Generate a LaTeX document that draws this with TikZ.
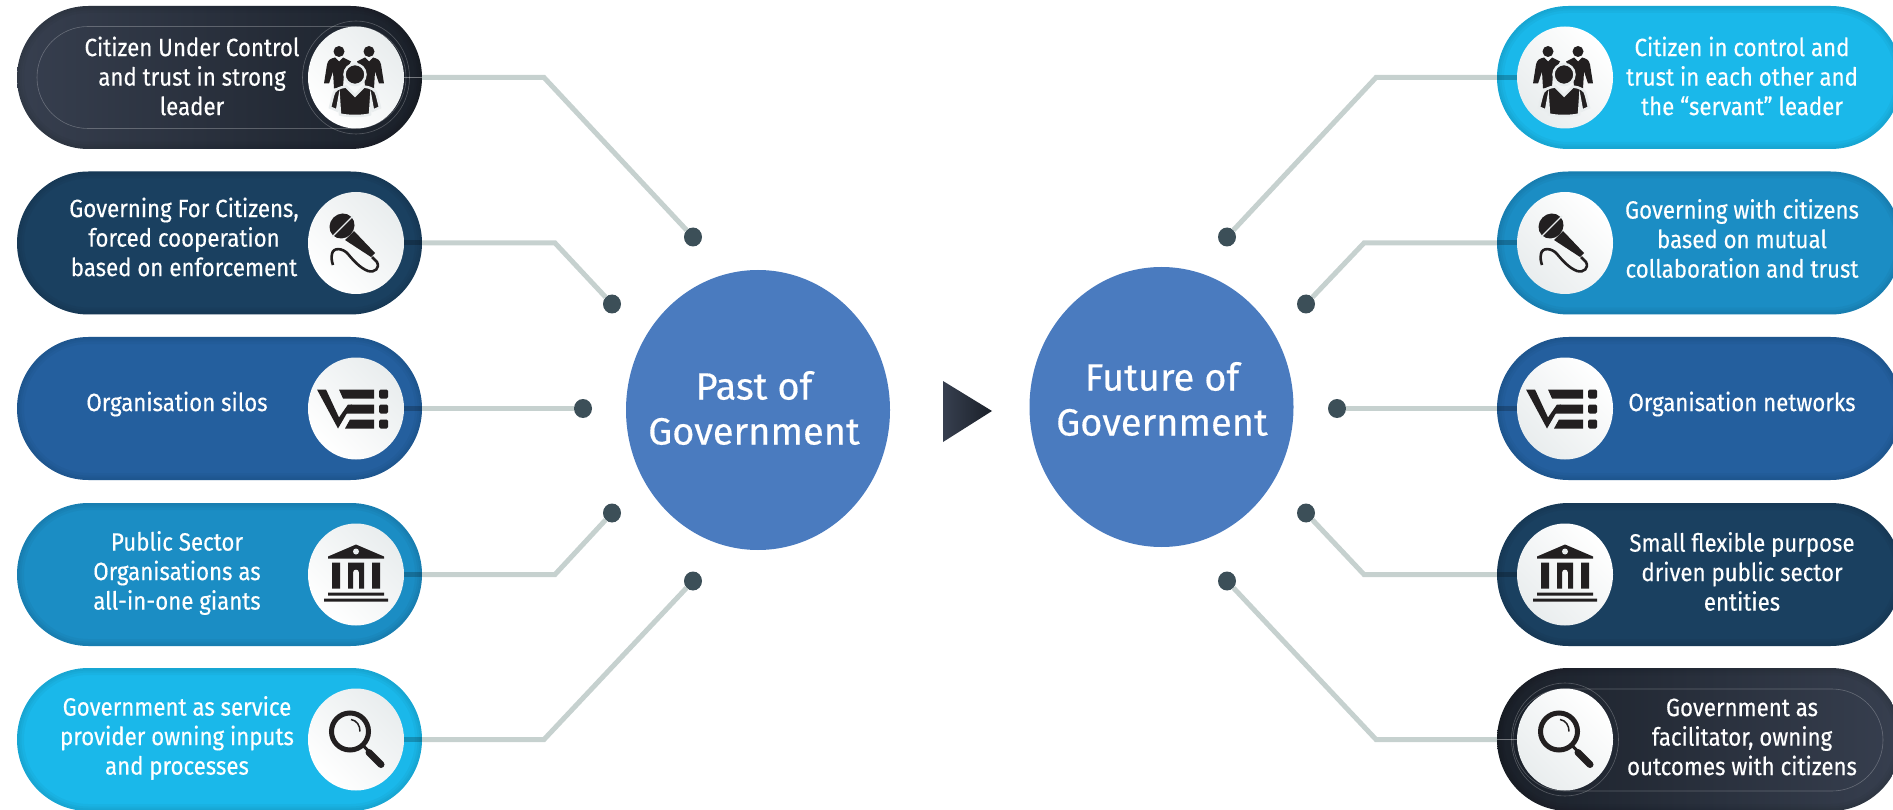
\documentclass[tikz,border=0pt]{standalone}
\usepackage{fontspec}
\setmainfont[FakeStretch=0.89,FakeBold=0.35]{Fira Sans}
\newfontfamily\headfont[FakeBold=0.4]{Fira Sans}
\usetikzlibrary{shapes.geometric,shapes.misc}
\definecolor{inkDark}{HTML}{221F20}
\definecolor{linkGray}{HTML}{C6D1CF}
\definecolor{dotGray}{HTML}{3C4F58}
\definecolor{bigBlue}{HTML}{4A7BBF}
\definecolor{slateA}{HTML}{373F4F}
\definecolor{slateB}{HTML}{1A2029}
\definecolor{navy}{HTML}{1A4060}
\definecolor{royal}{HTML}{245F9E}
\definecolor{ocean}{HTML}{1B8DC4}
\definecolor{sky}{HTML}{1AB8EA}
\definecolor{iconPale}{HTML}{E9EDEE}
\tikzset{
  pillbox/.style={rounded rectangle,inner sep=0pt,minimum width=405pt,minimum height=143pt,
    path picture={\foreach \w in {14,9,5}{\draw[black,opacity=.03,line width=\w pt,rounded corners=71.5pt]
      (path picture bounding box.south west) rectangle (path picture bounding box.north east);}}},
  ringbox/.style={rounded rectangle,inner sep=0pt,minimum height=102pt,draw=white,draw opacity=.25,line width=.6pt},
  ringicon/.style={ellipse,inner sep=0pt,minimum width=107pt,minimum height=113pt,draw=white,draw opacity=.25,line width=.6pt},
  iconbox/.style={ellipse,inner sep=0pt,minimum width=96pt,minimum height=102pt,top color=iconPale,bottom color=white,shading angle=-45},
  iconboxr/.style={iconbox,shading angle=135},
  pilltext/.style={text=white,align=center,font=\fontsize{25}{29.5}\selectfont},
  headtext/.style={text=white,align=center,font=\headfont\fontsize{38}{45}\selectfont},
  bigdisc/.style={ellipse,inner sep=0pt,minimum width=264pt,minimum height=280pt,fill=bigBlue},
  endball/.style={ellipse,inner sep=0pt,minimum width=18pt,minimum height=19pt,fill=dotGray},
  link/.style={draw=linkGray,line width=5pt},
  linkin/.style={draw=black,opacity=.22,line width=5pt},
  linkpale/.style={draw=white,opacity=.4,line width=.7pt},
  iconpeople/.pic={
    \fill[inkDark] (-17,-26) circle (5.5) (13,-26) circle (5.5);
    \fill[inkDark] (-32,6) -- (-29,-13) .. controls (-28,-18) and (-25,-19) .. (-21,-20) -- (-17,-16) -- (-13,-20) -- (-5,-16) -- (-12,-3) -- (-13,9) -- (-22,11) -- (-23,-6) -- (-27,6) -- cycle;
    \fill[inkDark] (28,6) -- (25,-13) .. controls (24,-18) and (21,-19) .. (17,-20) -- (13,-16) -- (9,-20) -- (1,-16) -- (8,-3) -- (9,9) -- (18,11) -- (19,-6) -- (23,6) -- cycle;
    \fill[inkDark,draw=iconPale,line width=2.5pt] (-1,-3) circle (10.5);
    \fill[inkDark,draw=iconPale,line width=2.5pt] (-10,9) -- (-1,18) -- (8,9) .. controls (15,10) and (20,12) .. (21,18) -- (24,30) -- (17,33) -- (15,22) -- (14,37) .. controls (6,39) and (-8,39) .. (-16,37) -- (-17,22) -- (-19,33) -- (-26,30) -- (-23,18) .. controls (-22,12) and (-17,10) .. (-10,9) -- cycle;
  },
  iconmic/.pic={
    \fill[inkDark,rotate around={45:(-14,-17)}] (-14,-17) ellipse (13 and 12);
    \draw[iconPale,line width=1.3pt] (-24,-6) -- (-3,-27);
    \fill[inkDark] (-11,-3) -- (-2,-12) -- (19,10) -- (15,14) -- cycle;
    \draw[inkDark,line width=2.6pt] (16,14) -- (21,19) .. controls (24,25) and (19,30) .. (12,28) .. controls (4,25) and (-3,17) .. (-8,11) .. controls (-13,5) and (-23,4) .. (-24,11) .. controls (-25,15) and (-24,19) .. (-23,22);
  },
  iconlist/.pic={
    \fill[inkDark] (-39,-19) -- (-30,-19) -- (-17,9) -- (-8,-4) -- (-4,-4) -- (-18,20) -- cycle;
    \fill[inkDark] (-17,-19) -- (18,-19) -- (18,-10) -- (-13,-10) -- cycle;
    \fill[inkDark] (-5,-4) -- (18,-4) -- (18,5) -- (-10,5) -- cycle;
    \fill[inkDark] (-6,11) -- (18,11) -- (18,20) -- (-11,20) -- cycle;
    \fill[inkDark,rounded corners=1.5pt] (23,-19) rectangle (32,-10) (23,-4) rectangle (32,5) (23,11) rectangle (32,20);
  },
  iconbank/.pic={
    \fill[inkDark] (0,-30) -- (28,-18) -- (28,-16) -- (-28,-16) -- (-28,-18) -- cycle;
    \fill[iconPale] (0,-23) circle (3);
    \fill[inkDark] (-24,-12) rectangle (-16,14) (16,-12) rectangle (24,14);
    \fill[inkDark] (-8,14) -- (-8,-12) -- (8,-12) -- (8,14) -- (3,14) -- (3,-2) .. controls (3,-6) and (-3,-6) .. (-3,-2) -- (-3,14) -- cycle;
    \fill[inkDark] (-28,18) rectangle (28,21) (-32,24) rectangle (32,27);
  },
  iconlens/.pic={
    \draw[inkDark,line width=5pt] (-6,-8) circle (18.5);
    \draw[inkDark,line width=3pt] (7,6) -- (13,12);
    \draw[inkDark,line width=7pt,line cap=round] (13,13) -- (25,25);
    \draw[inkDark,line width=1.5pt] (-5,-20) .. controls (1,-19) and (4,-14) .. (4,-8);
  },
}
\begin{document}
\begin{tikzpicture}[x=1pt,y=-1pt]
  \useasboundingbox (0,0) rectangle (1893,810);
  \clip (0,0) rectangle (1893,810);
  % left column
  \node[pillbox,left color=slateA,right color=slateB] (pastPillA) at (219.5,77.5) {};
  \node[pillbox,fill=navy] (pastPillB) at (219.5,243) {};
  \node[pillbox,fill=royal] (pastPillC) at (219.5,408.5) {};
  \node[pillbox,fill=ocean] (pastPillD) at (219.5,574.5) {};
  \node[pillbox,fill=sky] (pastPillE) at (219.5,739.5) {};
  \node[ringbox,minimum width=369pt] (pastRing) at (221.5,77.5) {};
  \node[ringicon] (pastHalo) at (356,77.5) {};
  \node[iconbox] (pastIconA) at (356,77.5) {};
  \node[iconbox] (pastIconB) at (356,243) {};
  \node[iconbox] (pastIconC) at (356,408.5) {};
  \node[iconbox] (pastIconD) at (356,574.5) {};
  \node[iconbox] (pastIconE) at (356,739.5) {};
  \pic at (pastIconA) {iconpeople};
  \pic at (pastIconB) {iconmic};
  \pic at (pastIconC) {iconlist};
  \pic at (pastIconD) {iconbank};
  \pic at (pastIconE) {iconlens};
  \node[pilltext] (pastTextA) at (192,76) {Citizen Under Control\\and trust in strong\\leader};
  \node[pilltext] (pastTextB) at (184,237) {Governing For Citizens,\\forced cooperation\\based on enforcement};
  \node[pilltext] (pastTextC) at (177,404) {Organisation silos};
  \node[pilltext] (pastTextD) at (177,573) {Public Sector\\Organisations as\\all-in-one giants};
  \node[pilltext] (pastTextE) at (177,738) {Government as service\\provider owning inputs\\and processes};
  % right column
  \node[pillbox,fill=sky] (futurePillA) at (1699.5,77.5) {};
  \node[pillbox,fill=ocean] (futurePillB) at (1699.5,243) {};
  \node[pillbox,fill=royal] (futurePillC) at (1699.5,408.5) {};
  \node[pillbox,fill=navy] (futurePillD) at (1699.5,574.5) {};
  \node[pillbox,left color=slateB,right color=slateA] (futurePillE) at (1699.5,739.5) {};
  \node[ringbox,minimum width=370pt] (futureRing) at (1698,740) {};
  \node[ringicon] (futureHalo) at (1565,739.5) {};
  \node[iconboxr] (futureIconA) at (1565,77.5) {};
  \node[iconboxr] (futureIconB) at (1565,243) {};
  \node[iconboxr] (futureIconC) at (1565,408.5) {};
  \node[iconboxr] (futureIconD) at (1565,574.5) {};
  \node[iconboxr] (futureIconE) at (1565,739.5) {};
  \pic at (futureIconA) {iconpeople};
  \pic at (futureIconB) {iconmic};
  \pic at (futureIconC) {iconlist};
  \pic at (futureIconD) {iconbank};
  \pic at (futureIconE) {iconlens};
  \node[pilltext] (futureTextA) at (1742,76) {Citizen in control and\\trust in each other and\\the “servant” leader};
  \node[pilltext] (futureTextB) at (1742,238.5) {Governing with citizens\\based on mutual\\collaboration and trust};
  \node[pilltext] (futureTextC) at (1742,404) {Organisation networks};
  \node[pilltext] (futureTextD) at (1742,571.5) {Small flexible purpose\\driven public sector\\entities};
  \node[pilltext] (futureTextE) at (1742,737) {Government as\\facilitator, owning\\outcomes with citizens};
  % centre
  \node[bigdisc] (pastDisc) at (758,410) {};
  \node[bigdisc] (futureDisc) at (1161.5,407) {};
  \node[headtext] (pastHead) at (754,408) {Past of\\Government};
  \node[headtext] (futureHead) at (1162,399) {Future of\\Government};
  \shade[left color=slateA,right color=slateB] (943,381) -- (992,411) -- (943,442) -- cycle;
  % connectors
  \node[endball] (pastDotA) at (693,237) {};
  \node[endball] (pastDotB) at (612,304) {};
  \node[endball] (pastDotC) at (583,408.5) {};
  \node[endball] (pastDotD) at (612,513) {};
  \node[endball] (pastDotE) at (693,581) {};
  \node[endball] (futureDotA) at (1227,237) {};
  \node[endball] (futureDotB) at (1306,304) {};
  \node[endball] (futureDotC) at (1337,408.5) {};
  \node[endball] (futureDotD) at (1306,513) {};
  \node[endball] (futureDotE) at (1227,581) {};
  \coordinate (pastBendA) at (544,77.5);
  \coordinate (pastBendB) at (555,243);
  \coordinate (pastBendD) at (555,574.5);
  \coordinate (pastBendE) at (544,739.5);
  \coordinate (futureBendA) at (1376,77.5);
  \coordinate (futureBendB) at (1364,243);
  \coordinate (futureBendD) at (1364,574.5);
  \coordinate (futureBendE) at (1376,739.5);
  \draw[link] (pastPillA.east) -- (pastBendA) -- (pastDotA);
  \draw[link] (pastPillB.east) -- (pastBendB) -- (pastDotB);
  \draw[link] (pastPillC.east) -- (pastDotC);
  \draw[link] (pastPillD.east) -- (pastBendD) -- (pastDotD);
  \draw[link] (pastPillE.east) -- (pastBendE) -- (pastDotE);
  \draw[link] (futurePillA.west) -- (futureBendA) -- (futureDotA);
  \draw[link] (futurePillB.west) -- (futureBendB) -- (futureDotB);
  \draw[link] (futurePillC.west) -- (futureDotC);
  \draw[link] (futurePillD.west) -- (futureBendD) -- (futureDotD);
  \draw[link] (futurePillE.west) -- (futureBendE) -- (futureDotE);
  \draw[linkpale] (pastIconA.east) -- (pastPillA.east);
  \draw[linkin] (pastIconB.east) -- (pastPillB.east);
  \draw[linkin] (pastIconC.east) -- (pastPillC.east);
  \draw[linkin] (pastIconD.east) -- (pastPillD.east);
  \draw[linkin] (pastIconE.east) -- (pastPillE.east);
  \draw[linkin] (futureIconA.west) -- (futurePillA.west);
  \draw[linkin] (futureIconB.west) -- (futurePillB.west);
  \draw[linkin] (futureIconC.west) -- (futurePillC.west);
  \draw[linkin] (futureIconD.west) -- (futurePillD.west);
  \draw[linkpale] (futureIconE.west) -- (futurePillE.west);
\end{tikzpicture}
\end{document}
